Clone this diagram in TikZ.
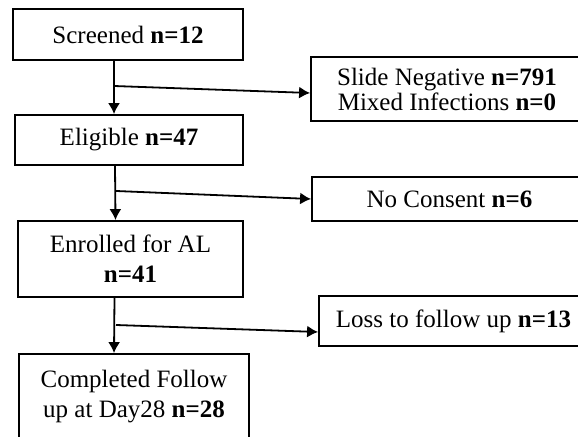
\documentclass[tikz,border=0pt]{standalone}
\usepackage{fontspec}
\setmainfont{Liberation Serif}
\usetikzlibrary{arrows.meta}

\begin{document}
\begin{tikzpicture}[x=0.5pt, y=-0.5pt, line width=0.9pt,
  box/.style={draw, rectangle, align=center, inner sep=0pt, font=\fontsize{12.5}{15}\selectfont},
  arr/.style={-{Latex[length=5.5pt,width=6pt]}}]
  \useasboundingbox (0,0) rectangle (578,437);
  \clip (0,0) rectangle (578,437);
  % main column
  \node[box, minimum width=115pt, minimum height=25.5pt] (screened) at (128,34.5) {Screened \textbf{n=12}};
  \node[box, minimum width=114pt, minimum height=25pt] (eligible) at (129,140) {Eligible \textbf{n=47}};
  \node[box, minimum width=112.5pt, minimum height=38pt] (enrolled) at (130.5,259) {Enrolled for AL\\\textbf{n=41}};
  \node[box, minimum width=115pt, minimum height=43pt] (completed) at (134,397) {Completed Follow\\up at Day28 \textbf{n=28}};
  % side boxes
  \node[box, minimum width=136pt, minimum height=32pt, font=\fontsize{12.5}{12.5}\selectfont] (slide) at (447,89) {Slide Negative \textbf{n=791}\\Mixed Infections \textbf{n=0}};
  \node[box, minimum width=137.5pt, minimum height=22pt] (noconsent) at (449.5,199) {No Consent \textbf{n=6}};
  \node[box, minimum width=134.5pt, minimum height=25pt] (loss) at (453.5,321) {Loss to follow up \textbf{n=13}};
  % branch points
  \coordinate (b1) at (114,86);
  \coordinate (b2) at (116,191);
  \coordinate (b3) at (116,325);
  % arrows
  \draw[arr] ([xshift=-7pt]screened.south) to ([xshift=-7.5pt]eligible.north);
  \draw[arr] ([xshift=-7pt]eligible.south) to ([xshift=-7.5pt]enrolled.north);
  \draw[arr] ([xshift=-8pt]enrolled.south) to ([xshift=-10pt]completed.north);
  \draw[arr] (b1) to ([yshift=-2pt]slide.west);
  \draw[arr] (b2) to (noconsent.west);
  \draw[arr] (b3) to ([yshift=-5.5pt]loss.west);
\end{tikzpicture}
\end{document}
